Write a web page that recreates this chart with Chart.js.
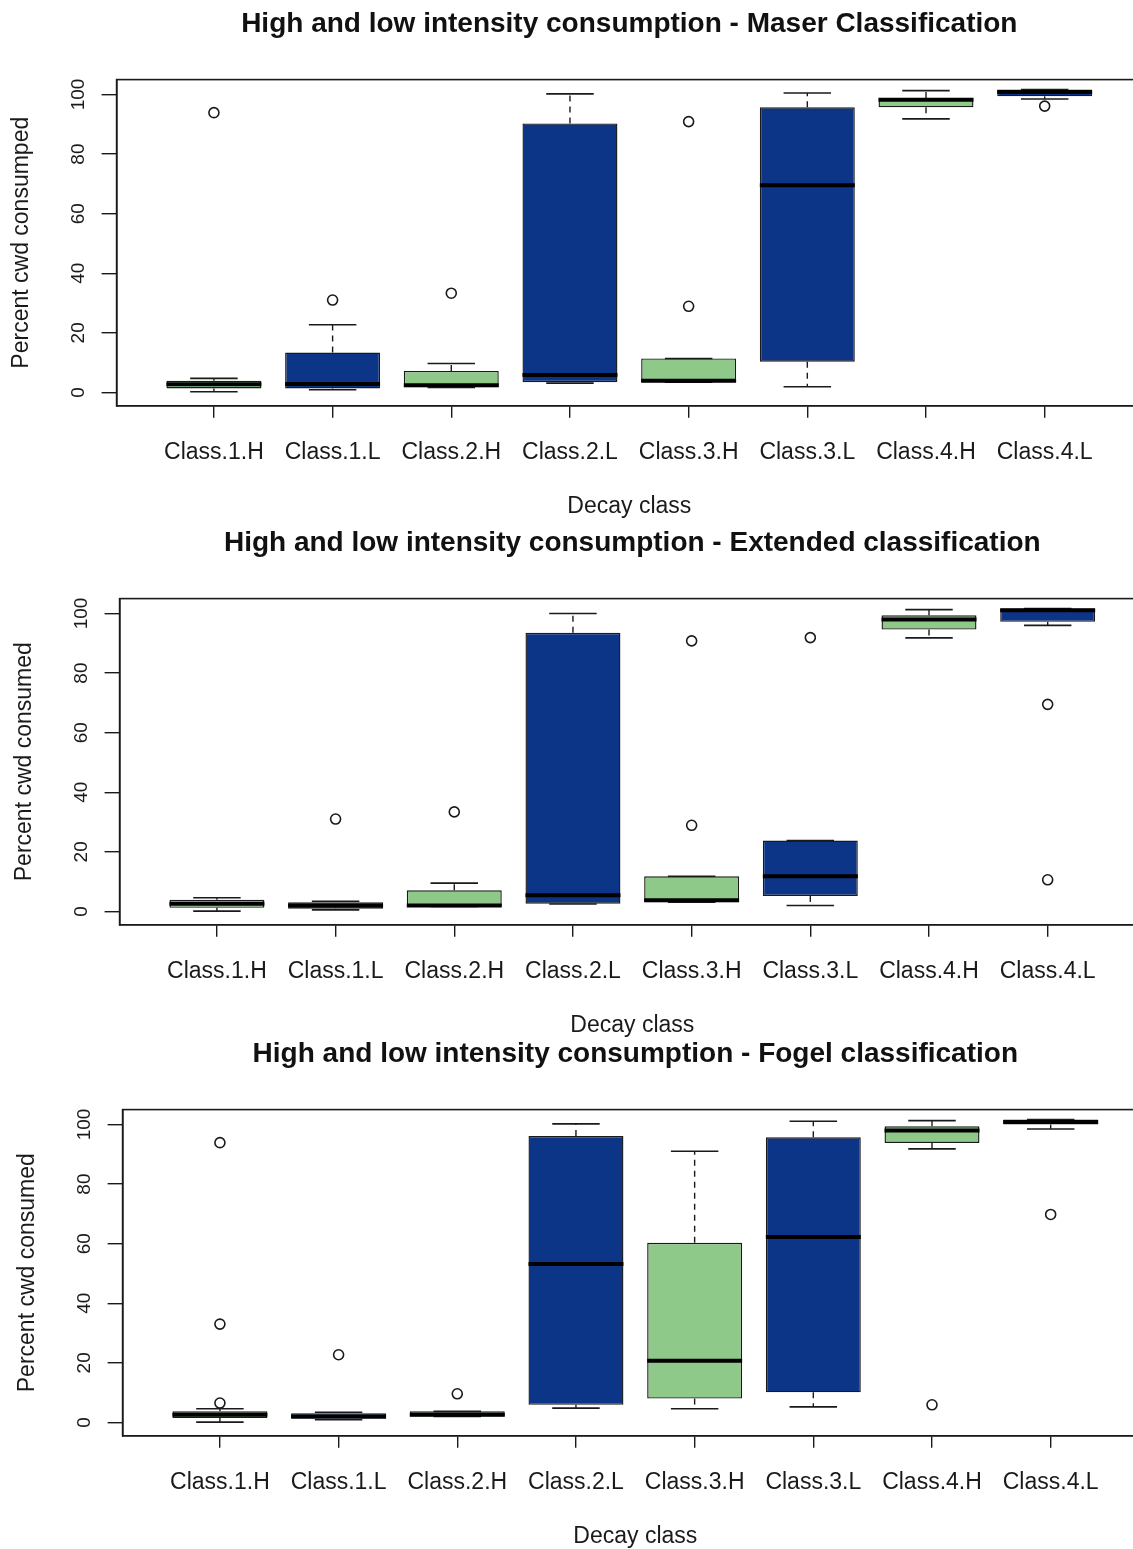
<!DOCTYPE html>
<html>
<head>
<meta charset="utf-8">
<title>High and low intensity consumption</title>
<script src="https://cdn.jsdelivr.net/npm/chart.js@4.4.1/dist/chart.umd.min.js"></script>
<style>
  html, body { margin: 0; padding: 0; background: #fff; overflow: hidden; }
  #wrap { position: relative; width: 1133px; height: 1549px; overflow: hidden; background: #fff; }
  .panel { position: absolute; width: 1259px; height: 520px; }
  .panel canvas { display: block; }
</style>
</head>
<body>
<div id="wrap">
  <div class="panel" style="left:0;top:0"><canvas id="maserChart" width="1259" height="520"></canvas></div>
  <div class="panel" style="left:3px;top:519px"><canvas id="extendedChart" width="1259" height="520"></canvas></div>
  <div class="panel" style="left:6px;top:1030px"><canvas id="fogelChart" width="1259" height="520"></canvas></div>
</div>
<script>
// decay classes, H = high intensity, L = low intensity
const categories = ['Class.1.H', 'Class.1.L', 'Class.2.H', 'Class.2.L', 'Class.3.H', 'Class.3.L', 'Class.4.H', 'Class.4.L'];
const yTicks = [0, 20, 40, 60, 80, 100];

// Maser classification (percent cwd consumed)
const maserLow  = [0.2, 0.9, 1.7, 3.1, 3.4, 1.9, 91.8, 98.5];
const maserQ1   = [1.3, 1.3, 1.7, 3.4, 3.4, 10.3, 95.7, 99.4];
const maserMed  = [2.7, 2.8, 2.4, 5.8, 3.9, 69.5, 98.2, 100.8];
const maserQ3   = [3.9, 13.4, 7.2, 90.3, 11.4, 95.7, 98.8, 101.7];
const maserHigh = [4.7, 22.7, 9.7, 100.2, 11.4, 100.5, 101.3, 101.7];
const maserOut  = [[93.9], [31.0], [33.3], [], [90.9, 28.9], [], [], [96.1]];

// Extended classification
const extLow  = [0.1, 0.5, 1.7, 2.5, 3.1, 2.0, 91.8, 96.0];
const extQ1   = [1.2, 0.9, 1.7, 2.6, 3.1, 5.2, 94.6, 97.2];
const extMed  = [2.6, 2.0, 2.0, 5.4, 3.7, 11.8, 98.0, 101.1];
const extQ3   = [3.9, 3.1, 7.1, 93.5, 11.8, 23.8, 99.4, 101.7];
const extHigh = [4.6, 3.4, 9.5, 100.0, 11.8, 23.8, 101.3, 101.7];
const extOut  = [[], [31.0], [33.4], [], [90.8, 28.9], [91.9], [], [69.5, 10.6]];

// Fogel classification
const fogelLow  = [0.1, 0.9, 2.0, 4.8, 4.6, 5.2, 91.8, 98.5];
const fogelQ1   = [1.5, 1.2, 2.0, 5.9, 8.0, 10.1, 93.8, 100.0];
const fogelMed  = [2.6, 2.0, 2.6, 53.2, 20.7, 62.2, 98.0, 100.8];
const fogelQ3   = [3.7, 3.1, 3.7, 96.1, 60.3, 95.7, 99.4, 101.7];
const fogelHigh = [4.6, 3.4, 3.7, 100.2, 91.0, 101.1, 101.3, 101.7];
const fogelOut  = [[93.9, 33.0, 6.5], [22.7], [9.6], [], [], [], [5.9], [69.8]];

const GREEN = '#8fc98a';
const BLUE = '#0c3588';
const INK = '#1a1a1a';
const boxColors = categories.map((c) => (c.endsWith('.H') ? GREEN : BLUE));
const FONT = "'Liberation Sans', Arial, sans-serif";

// whiskers, caps, medians and the frame, all placed through the chart scales
const boxplotExtras = {
  id: 'boxplotExtras',
  afterDatasetsDraw(chart, args, opts) {
    const { ctx, chartArea } = chart;
    const x = chart.scales.x;
    const y = chart.scales.y;
    const bars = chart.getDatasetMeta(0).data;
    ctx.save();
    ctx.strokeStyle = INK;
    categories.forEach((c, i) => {
      const cx = x.getPixelForValue(i + 1);
      const hw = bars[i].width / 2;
      const capW = hw / 2;
      const pairs = [[opts.q3[i], opts.high[i]], [opts.q1[i], opts.low[i]]];
      pairs.forEach(([edge, end]) => {
        const y0 = y.getPixelForValue(edge);
        const y1 = y.getPixelForValue(end);
        if (Math.abs(y1 - y0) > 1) {
          ctx.lineWidth = 1.4;
          ctx.setLineDash([6, 5]);
          ctx.beginPath();
          ctx.moveTo(cx, y0);
          ctx.lineTo(cx, y1);
          ctx.stroke();
        }
        ctx.setLineDash([]);
        ctx.lineWidth = 1.6;
        ctx.beginPath();
        ctx.moveTo(cx - capW, y1);
        ctx.lineTo(cx + capW, y1);
        ctx.stroke();
      });
      const ym = y.getPixelForValue(opts.med[i]);
      ctx.lineWidth = 4;
      ctx.strokeStyle = '#000';
      ctx.beginPath();
      ctx.moveTo(cx - hw, ym);
      ctx.lineTo(cx + hw, ym);
      ctx.stroke();
      ctx.strokeStyle = INK;
    });
    ctx.lineWidth = 1.6;
    ctx.strokeRect(chartArea.left, chartArea.top, chartArea.right - chartArea.left, chartArea.bottom - chartArea.top);
    ctx.restore();
  },
  afterDraw(chart) {
    // y tick labels are rotated like the R axis
    const { ctx } = chart;
    const y = chart.scales.y;
    ctx.save();
    ctx.fillStyle = INK;
    ctx.font = '19px ' + FONT;
    ctx.textAlign = 'center';
    ctx.textBaseline = 'middle';
    y.ticks.forEach((t) => {
      const py = y.getPixelForValue(t.value);
      ctx.save();
      ctx.translate(y.left + 79, py);
      ctx.rotate(-Math.PI / 2);
      ctx.fillText(String(t.value), 0, 0);
      ctx.restore();
    });
    ctx.restore();
  }
};

function makeChart(id, title, yTitle, low, q1, med, q3, high, out) {
  const boxes = categories.map((c, i) => ({ x: i + 1, y: [q1[i], q3[i]] }));
  const outliers = [];
  out.forEach((vals, i) => vals.forEach((v) => outliers.push({ x: i + 1, y: v })));

  return new Chart(document.getElementById(id), {
    type: 'bar',
    data: {
      datasets: [{
        label: 'box',
        data: boxes,
        backgroundColor: boxColors,
        borderColor: INK,
        borderWidth: 1.4,
        borderSkipped: false,
        barPercentage: 0.8,
        categoryPercentage: 1.0
      }, {
        type: 'line',
        label: 'outliers',
        data: outliers,
        showLine: false,
        pointStyle: 'circle',
        pointRadius: 5,
        pointBorderWidth: 1.6,
        pointBackgroundColor: 'rgba(255,255,255,0)',
        pointBorderColor: INK
      }]
    },
    options: {
      responsive: false,
      animation: false,
      layout: { padding: { left: 0, right: 117, top: 0, bottom: 0 } },
      plugins: {
        legend: { display: false },
        tooltip: { enabled: false },
        title: {
          display: true,
          fullSize: false,
          text: title,
          color: '#111',
          font: { family: FONT, size: 28, weight: 'bold' },
          padding: { top: 7, bottom: 39 }
        },
        boxplotExtras: { low, q1, med, q3, high }
      },
      scales: {
        x: {
          type: 'linear',
          offset: false,
          min: 0.18,
          max: 8.82,
          afterBuildTicks: (scale) => { scale.ticks = categories.map((c, i) => ({ value: i + 1 })); },
          ticks: {
            color: INK,
            font: { family: FONT, size: 23 },
            padding: 21,
            maxRotation: 0,
            autoSkip: false,
            callback: (v) => categories[v - 1]
          },
          grid: { display: true, offset: false, drawOnChartArea: false, drawTicks: true, tickLength: 12, color: INK, lineWidth: 1.4 },
          border: { display: true, color: INK, width: 1.6 },
          title: {
            display: true,
            text: 'Decay class',
            color: INK,
            font: { family: FONT, size: 23 },
            padding: { top: 5, bottom: 0 }
          }
        },
        y: {
          min: -4.5,
          max: 105,
          afterBuildTicks: (scale) => { scale.ticks = yTicks.map((v) => ({ value: v })); },
          ticks: { display: false },
          grid: { display: true, drawOnChartArea: false, drawTicks: true, tickLength: 15, color: INK, lineWidth: 1.4 },
          border: { display: true, color: INK, width: 1.6 },
          title: {
            display: true,
            text: yTitle,
            color: INK,
            font: { family: FONT, size: 23 },
            padding: { top: 8, bottom: 66 }
          }
        }
      }
    },
    plugins: [boxplotExtras]
  });
}

makeChart('maserChart', 'High and low intensity consumption - Maser Classification', 'Percent cwd consumped',
  maserLow, maserQ1, maserMed, maserQ3, maserHigh, maserOut);
makeChart('extendedChart', 'High and low intensity consumption - Extended classification', 'Percent cwd consumed',
  extLow, extQ1, extMed, extQ3, extHigh, extOut);
makeChart('fogelChart', 'High and low intensity consumption - Fogel classification', 'Percent cwd consumed',
  fogelLow, fogelQ1, fogelMed, fogelQ3, fogelHigh, fogelOut);
</script>
</body>
</html>
